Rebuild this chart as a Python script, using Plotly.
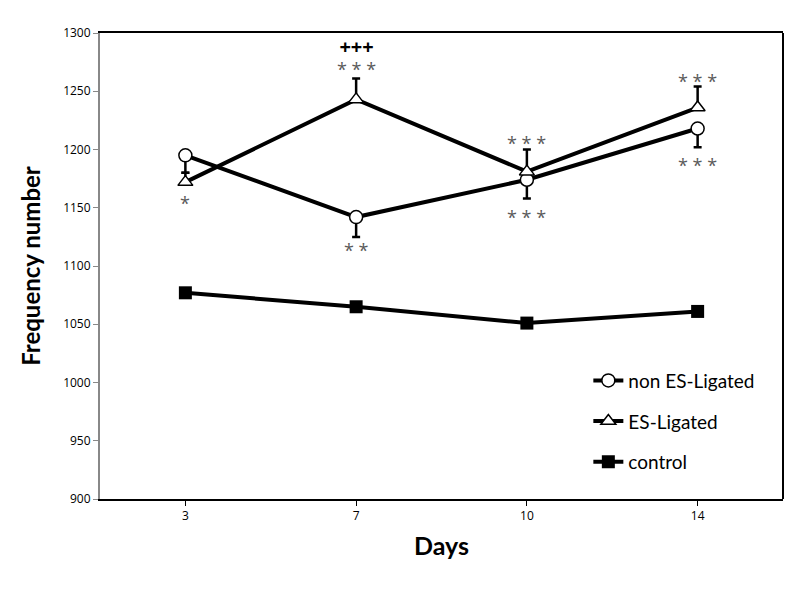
import plotly.graph_objects as go

days = ["3", "7", "10", "14"]
non_es = [1195, 1142, 1174, 1218]
non_es_err = [15, 17, 16, 16]
es = [1172, 1243, 1181, 1236]
es_err = [8, 18, 19, 18]
control = [1077, 1065, 1051, 1061]

# significance marks: (day, y position, text)
marks = [
    ("3", 1154, "*"),
    ("7", 1114, "* *"),
    ("10", 1206, "* * *"),
    ("10", 1142, "* * *"),
    ("14", 1259, "* * *"),
    ("14", 1187, "* * *"),
]
# day 7, ES-Ligated: "+++" above "***"
top_mark = ("7", 1279, "+++", "* * *")

fnt = "Lato"
grey = "#5a5a5a"

fig = go.Figure()
fig.add_trace(go.Scatter(
    x=days, y=non_es, name="non ES-Ligated", mode="lines+markers",
    line=dict(color="black", width=4),
    marker=dict(symbol="circle", size=13, color="white", line=dict(color="black", width=1.5)),
    error_y=dict(type="data", symmetric=False, array=[0]*4, arrayminus=non_es_err,
                 color="black", thickness=2.5, width=4),
    legendgroup="a"))
fig.add_trace(go.Scatter(
    x=days, y=es, name="ES-Ligated", mode="lines+markers",
    line=dict(color="black", width=4),
    marker=dict(symbol="triangle-up", size=13, color="white", line=dict(color="black", width=1.5)),
    error_y=dict(type="data", symmetric=False, array=es_err, arrayminus=[0]*4,
                 color="black", thickness=2.5, width=4),
    legendgroup="b"))
fig.add_trace(go.Scatter(
    x=days, y=control, name="control", mode="lines+markers",
    line=dict(color="black", width=4),
    marker=dict(symbol="square", size=13, color="black"),
    legendgroup="c"))

for d, y, t in marks:
    fig.add_annotation(x=days.index(d), y=y, text=t, showarrow=False,
                       font=dict(family="Open Sans", size=18, color=grey))

d, y, plus, stars = top_mark
fig.add_annotation(
    x=days.index(d), y=y, showarrow=False,
    text=(f"<span style='color:black;font-size:20px'><b>{plus}</b></span><br>"
          f"<span style='font-size:18px'>{stars}</span>"),
    font=dict(family="Open Sans", size=17, color=grey))

fig.add_shape(type="line", xref="paper", yref="paper", x0=1, x1=1, y0=0, y1=1,
              line=dict(color="black", width=2))

fig.update_xaxes(
    type="category", range=[-0.5, 3.5], automargin=False,
    title=dict(text="<b>Days</b>", font=dict(family=fnt, size=25, color="black"), standoff=14),
    showline=True, linecolor="black", linewidth=2, mirror=True,
    ticks="outside", ticklen=5, tickcolor="black",
    tickfont=dict(family="Open Sans", size=12, color="black"), showgrid=False)
fig.update_yaxes(
    range=[900, 1300], dtick=50, automargin=False,
    title=dict(text="<b>Frequency number</b>", font=dict(family=fnt, size=24, color="black"), standoff=16),
    showline=True, linecolor="#888888", linewidth=2,
    ticks="outside", ticklen=5, tickcolor="#888888",
    tickfont=dict(family="Open Sans", size=12, color="black"), showgrid=False, zeroline=False)

# page body has an 8px margin, so margins are shifted to keep the plot area in place
fig.update_layout(
    width=800, height=589,
    margin=dict(l=92, r=25, t=25, b=98),
    plot_bgcolor="white", paper_bgcolor="white",
    legend=dict(x=0.715, y=0.295, xanchor="left", yanchor="top",
                font=dict(family=fnt, size=19, color="black"),
                tracegroupgap=13, bgcolor="rgba(0,0,0,0)"),
)

fig.write_html("out.html")
